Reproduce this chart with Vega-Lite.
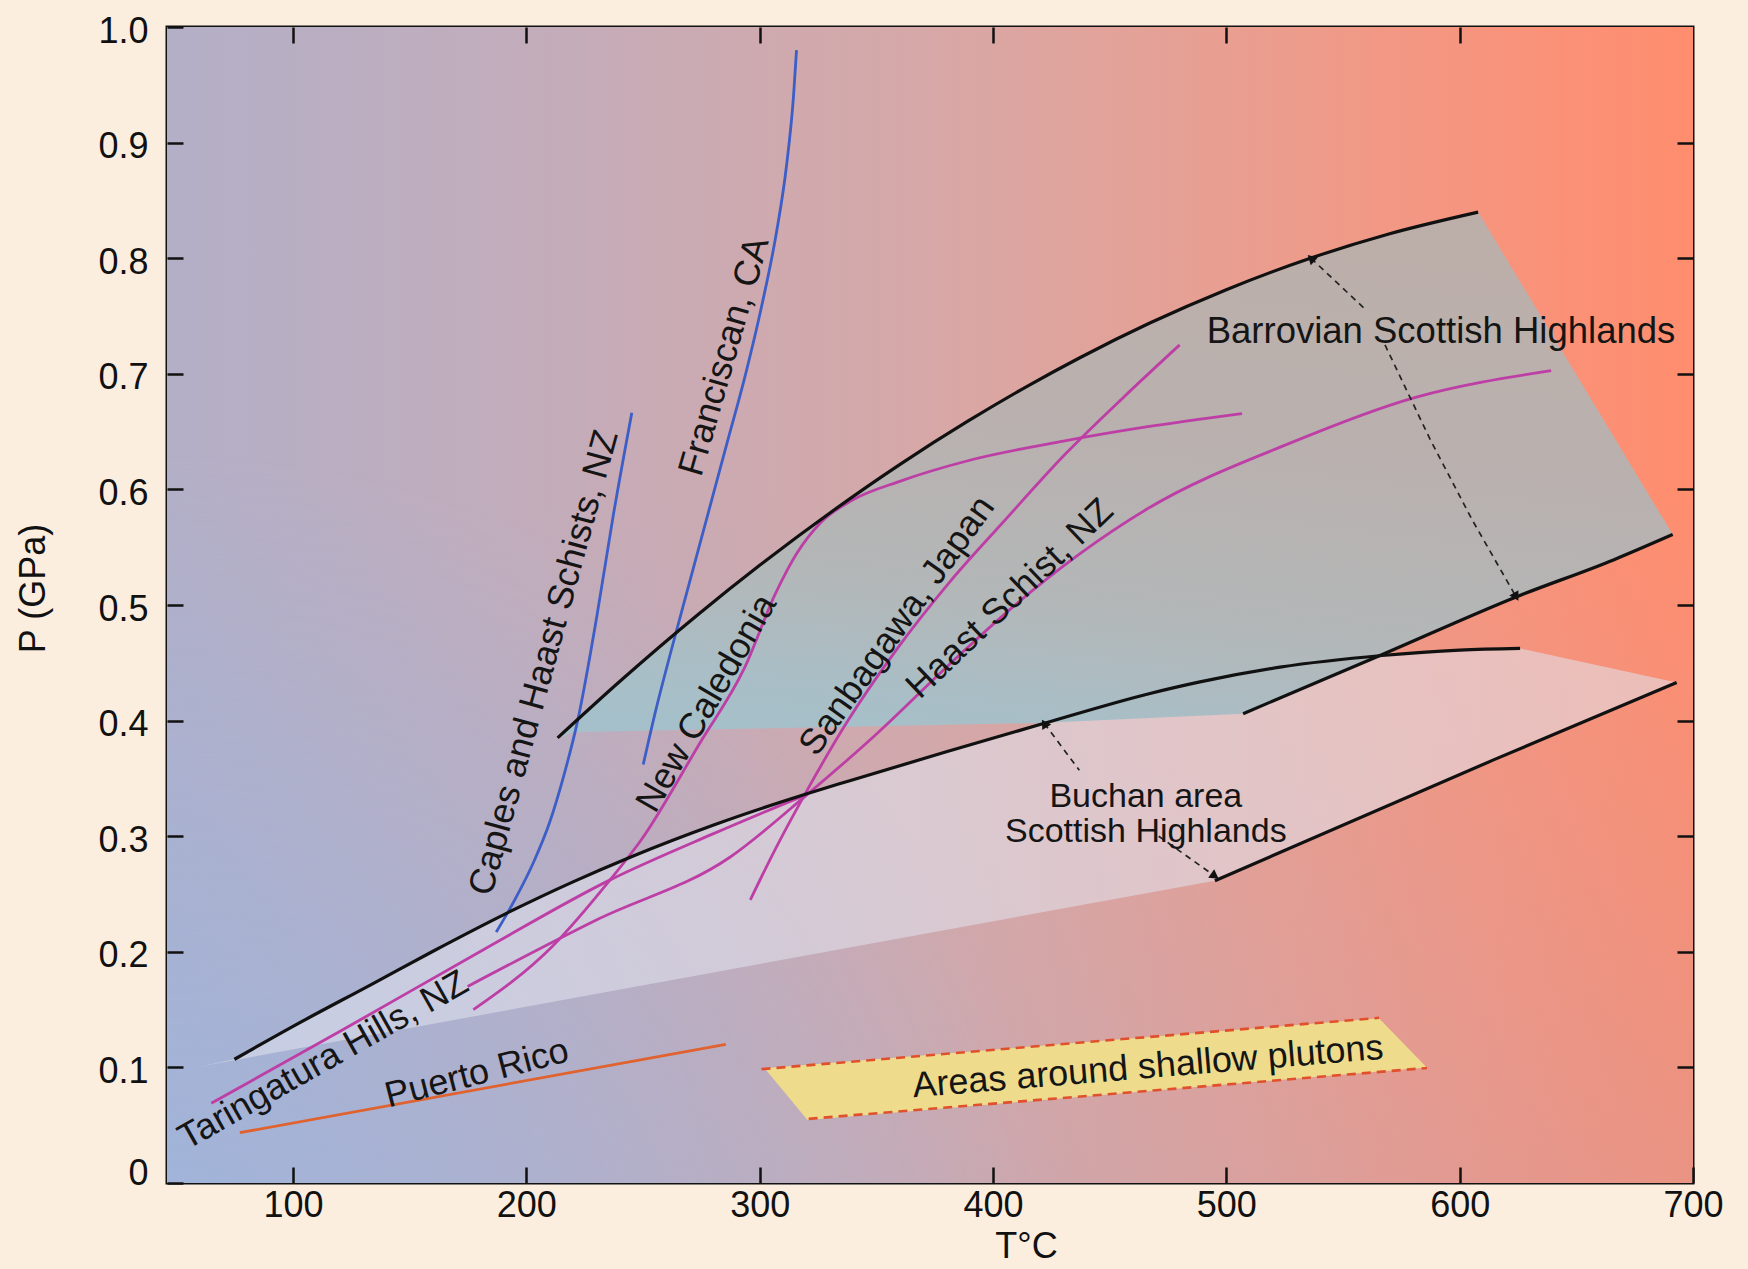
{
  "$schema": "https://vega.github.io/schema/vega-lite/v6.json",
  "width": 1526,
  "height": 1156,
  "autosize": "none",
  "padding": {"left": 167, "top": 27, "right": 55, "bottom": 86},
  "background": "#FCEEDF",
  "config": {
    "view": {"stroke": "#111", "strokeWidth": 3},
    "font": "Liberation Sans",
    "axis": {
      "domain": false, "grid": false, "ticks": true, "tickColor": "#111", "tickWidth": 2.5, "tickSize": 16, "offset": -16,
      "labelFont": "Liberation Sans", "labelFontSize": 36, "labelColor": "#111",
      "labelFlush": false, "labelOverlap": false,
      "titleFont": "Liberation Sans", "titleFontSize": 36, "titleFontWeight": "normal", "titleColor": "#111"
    }
  },
  "datasets": {
    "bg": [{"T": 46, "T2": 700, "P": 0, "P2": 1}],
    "black": [
      {"id": "bu", "T": 213.4, "P": 0.385}, {"id": "bu", "T": 240, "P": 0.4338}, {"id": "bu", "T": 274.4, "P": 0.4931},
      {"id": "bu", "T": 300, "P": 0.5343}, {"id": "bu", "T": 331.7, "P": 0.582}, {"id": "bu", "T": 360, "P": 0.6215},
      {"id": "bu", "T": 389.2, "P": 0.659}, {"id": "bu", "T": 415, "P": 0.6896}, {"id": "bu", "T": 437, "P": 0.7137},
      {"id": "bu", "T": 467.2, "P": 0.7439}, {"id": "bu", "T": 500, "P": 0.7728}, {"id": "bu", "T": 536.3, "P": 0.8002},
      {"id": "bu", "T": 570, "P": 0.8212}, {"id": "bu", "T": 607.9, "P": 0.8399},
      {"id": "bl", "T": 507.2, "P": 0.406}, {"id": "bl", "T": 566.6, "P": 0.457}, {"id": "bl", "T": 624.2, "P": 0.507},
      {"id": "bl", "T": 665.9, "P": 0.539}, {"id": "bl", "T": 691.3, "P": 0.561},
      {"id": "cu", "T": 74.9, "P": 0.107}, {"id": "cu", "T": 100, "P": 0.1355}, {"id": "cu", "T": 134.3, "P": 0.1725},
      {"id": "cu", "T": 160, "P": 0.2005}, {"id": "cu", "T": 191.7, "P": 0.2335}, {"id": "cu", "T": 220, "P": 0.2605},
      {"id": "cu", "T": 245.3, "P": 0.2825}, {"id": "cu", "T": 280, "P": 0.3095}, {"id": "cu", "T": 319.9, "P": 0.3365},
      {"id": "cu", "T": 338.6, "P": 0.348}, {"id": "cu", "T": 380, "P": 0.373}, {"id": "cu", "T": 421.6, "P": 0.3975},
      {"id": "cu", "T": 467.3, "P": 0.4235}, {"id": "cu", "T": 488.7, "P": 0.4335}, {"id": "cu", "T": 523, "P": 0.4462},
      {"id": "cu", "T": 566.6, "P": 0.4563}, {"id": "cu", "T": 600, "P": 0.461}, {"id": "cu", "T": 625.9, "P": 0.4625},
      {"id": "cl", "T": 495.1, "P": 0.2615}, {"id": "cl", "T": 614.5, "P": 0.366}, {"id": "cl", "T": 693, "P": 0.433}
    ],
    "blue": [
      {"id": "caples", "T": 187.1, "P": 0.217}, {"id": "caples", "T": 195.6, "P": 0.247}, {"id": "caples", "T": 203, "P": 0.277},
      {"id": "caples", "T": 210, "P": 0.312}, {"id": "caples", "T": 216, "P": 0.352}, {"id": "caples", "T": 222, "P": 0.4},
      {"id": "caples", "T": 230.2, "P": 0.49}, {"id": "caples", "T": 237.3, "P": 0.578}, {"id": "caples", "T": 245.2, "P": 0.6663},
      {"id": "fran", "T": 250.1, "P": 0.362}, {"id": "fran", "T": 255, "P": 0.405}, {"id": "fran", "T": 262, "P": 0.46},
      {"id": "fran", "T": 270, "P": 0.52}, {"id": "fran", "T": 278, "P": 0.58}, {"id": "fran", "T": 286, "P": 0.64},
      {"id": "fran", "T": 294, "P": 0.7}, {"id": "fran", "T": 301, "P": 0.76}, {"id": "fran", "T": 307, "P": 0.82},
      {"id": "fran", "T": 311.5, "P": 0.88}, {"id": "fran", "T": 314.5, "P": 0.94}, {"id": "fran", "T": 315.8, "P": 0.98}
    ],
    "magenta": [
      {"id": "tar", "T": 65, "P": 0.069}, {"id": "tar", "T": 120, "P": 0.131}, {"id": "tar", "T": 181.4, "P": 0.2016},
      {"id": "tar", "T": 235.7, "P": 0.262}, {"id": "tar", "T": 280, "P": 0.302}, {"id": "tar", "T": 320, "P": 0.336},
      {"id": "hs", "T": 174.8, "P": 0.17}, {"id": "hs", "T": 230, "P": 0.2275}, {"id": "hs", "T": 287.4, "P": 0.282},
      {"id": "hs", "T": 320.3, "P": 0.336}, {"id": "hs", "T": 350.9, "P": 0.39}, {"id": "hs", "T": 381.5, "P": 0.449},
      {"id": "hs", "T": 408.3, "P": 0.498}, {"id": "hs", "T": 437, "P": 0.544}, {"id": "hs", "T": 466, "P": 0.583},
      {"id": "hs", "T": 527.3, "P": 0.64}, {"id": "hs", "T": 579.9, "P": 0.679}, {"id": "hs", "T": 639.2, "P": 0.7027},
      {"id": "nc", "T": 177.3, "P": 0.15}, {"id": "nc", "T": 211, "P": 0.2044}, {"id": "nc", "T": 235.8, "P": 0.262},
      {"id": "nc", "T": 249.2, "P": 0.2967}, {"id": "nc", "T": 274.4, "P": 0.3807}, {"id": "nc", "T": 293.5, "P": 0.4456},
      {"id": "nc", "T": 306.9, "P": 0.5105}, {"id": "nc", "T": 316, "P": 0.545}, {"id": "nc", "T": 326, "P": 0.571},
      {"id": "nc", "T": 340, "P": 0.591}, {"id": "nc", "T": 360, "P": 0.607}, {"id": "nc", "T": 389.2, "P": 0.6248},
      {"id": "nc", "T": 430.2, "P": 0.6418}, {"id": "nc", "T": 465.6, "P": 0.654}, {"id": "nc", "T": 506.7, "P": 0.6656},
      {"id": "sb", "T": 296, "P": 0.245}, {"id": "sb", "T": 306.5, "P": 0.288}, {"id": "sb", "T": 319.3, "P": 0.336},
      {"id": "sb", "T": 337.5, "P": 0.399}, {"id": "sb", "T": 358.5, "P": 0.461}, {"id": "sb", "T": 381.5, "P": 0.52},
      {"id": "sb", "T": 404.5, "P": 0.572}, {"id": "sb", "T": 431.2, "P": 0.631}, {"id": "sb", "T": 456.1, "P": 0.68},
      {"id": "sb", "T": 480, "P": 0.725}
    ],
    "puerto": [{"T": 77.2, "P": 0.0435}, {"T": 285.5, "P": 0.12}],
    "plutonFill": [
      {"i": 0, "T": 302.1, "P": 0.0992}, {"i": 1, "T": 565.4, "P": 0.1425},
      {"i": 2, "T": 585.9, "P": 0.1}, {"i": 3, "T": 320.5, "P": 0.0545}
    ],
    "plutonEdges": [
      {"id": "top", "T": 300.8, "P": 0.0985}, {"id": "top", "T": 565.5, "P": 0.1429},
      {"id": "bot", "T": 321, "P": 0.0555}, {"id": "bot", "T": 586, "P": 0.0995}
    ],
    "buchanFill": [
      {"i": 0, "T": 58, "P": 0.1}, {"i": 1, "T": 74.9, "P": 0.107}, {"i": 2, "T": 100, "P": 0.1355},
      {"i": 3, "T": 134.3, "P": 0.1725}, {"i": 4, "T": 160, "P": 0.2005}, {"i": 5, "T": 191.7, "P": 0.2335},
      {"i": 6, "T": 220, "P": 0.2605}, {"i": 7, "T": 245.3, "P": 0.2825}, {"i": 8, "T": 280, "P": 0.3095},
      {"i": 9, "T": 319.9, "P": 0.3365}, {"i": 10, "T": 338.6, "P": 0.348}, {"i": 11, "T": 380, "P": 0.373},
      {"i": 12, "T": 421.6, "P": 0.3975}, {"i": 13, "T": 467.3, "P": 0.4235}, {"i": 14, "T": 488.7, "P": 0.4335},
      {"i": 15, "T": 523, "P": 0.4462}, {"i": 16, "T": 566.6, "P": 0.4563}, {"i": 17, "T": 600, "P": 0.461},
      {"i": 18, "T": 625.9, "P": 0.4625}, {"i": 19, "T": 693, "P": 0.433}, {"i": 20, "T": 614.5, "P": 0.366},
      {"i": 21, "T": 495.1, "P": 0.2615}
    ],
    "barrovianFill": [
      {"i": 0, "T": 213.4, "P": 0.385}, {"i": 1, "T": 240, "P": 0.4338}, {"i": 2, "T": 274.4, "P": 0.4931},
      {"i": 3, "T": 300, "P": 0.5343}, {"i": 4, "T": 331.7, "P": 0.582}, {"i": 5, "T": 360, "P": 0.6215},
      {"i": 6, "T": 389.2, "P": 0.659}, {"i": 7, "T": 415, "P": 0.6896}, {"i": 8, "T": 437, "P": 0.7137},
      {"i": 9, "T": 467.2, "P": 0.7439}, {"i": 10, "T": 500, "P": 0.7728}, {"i": 11, "T": 536.3, "P": 0.8002},
      {"i": 12, "T": 570, "P": 0.8212}, {"i": 13, "T": 607.9, "P": 0.8399},
      {"i": 14, "T": 691.3, "P": 0.561}, {"i": 15, "T": 665.9, "P": 0.539}, {"i": 16, "T": 624.2, "P": 0.507},
      {"i": 17, "T": 566.6, "P": 0.457}, {"i": 18, "T": 507.2, "P": 0.406}, {"i": 19, "T": 420, "P": 0.398},
      {"i": 20, "T": 220, "P": 0.39}
    ],
    "arrows": [
      {"id": "b1", "T": 536.3, "P": 0.8}, {"id": "b1", "T": 558.9, "P": 0.757},
      {"id": "b2", "T": 568, "P": 0.725}, {"id": "b2", "T": 587.4, "P": 0.643}, {"id": "b2", "T": 605.4, "P": 0.5735}, {"id": "b2", "T": 624.2, "P": 0.507},
      {"id": "c1", "T": 422, "P": 0.3975}, {"id": "c1", "T": 437, "P": 0.357},
      {"id": "c2", "T": 471, "P": 0.3}, {"id": "c2", "T": 495.1, "P": 0.2655}
    ]
  },
  "encoding": {
    "x": {"field": "T", "type": "quantitative", "scale": {"domain": [46, 700], "nice": false, "zero": false}, "axis": null},
    "y": {"field": "P", "type": "quantitative", "scale": {"domain": [0, 1], "nice": false, "zero": false}, "axis": null}
  },
  "layer": [
    {
      "data": {"name": "bg"},
      "mark": {"type": "rect", "fill": {"gradient": "linear", "x1": 0, "y1": 0, "x2": 1, "y2": 0, "stops": [
        {"offset": 0, "color": "#B3AFC7"}, {"offset": 0.25, "color": "#C3ACBA"}, {"offset": 0.5, "color": "#D7A8A7"},
        {"offset": 0.72, "color": "#EB9D8E"}, {"offset": 0.88, "color": "#F8937B"}, {"offset": 1, "color": "#FF8D6E"}]}},
      "encoding": {
        "x": {"field": "T", "type": "quantitative", "scale": {"domain": [46, 700], "nice": false, "zero": false},
          "axis": {"orient": "bottom", "zindex": 3, "values": [100, 200, 300, 400, 500, 600, 700], "labelPadding": 5,
            "title": "T°C", "titleX": 859, "titleY": 90, "titleBaseline": "alphabetic"}},
        "x2": {"field": "T2"},
        "y": {"field": "P", "type": "quantitative", "scale": {"domain": [0, 1], "nice": false, "zero": false},
          "axis": {"orient": "left", "zindex": 3, "values": [0, 0.1, 0.2, 0.3, 0.4, 0.5, 0.6, 0.7, 0.8, 0.9, 1],
            "labelExpr": "datum.value == 0 ? '0' : format(datum.value, '.1f')", "labelPadding": 19,
            "labelOffset": {"condition": {"test": "datum.value == 0", "value": -10}, "value": 4},
            "title": "P (GPa)", "titleX": -150, "titleY": 561, "titleAngle": -90, "titleBaseline": "middle", "titleAlign": "center"}},
        "y2": {"field": "P2"}
      }
    },
    {
      "data": {"name": "bg"},
      "mark": {"type": "rect", "fill": {"gradient": "linear", "x1": 0, "y1": 1, "x2": 0, "y2": 0, "stops": [
        {"offset": 0, "color": "rgba(140,175,225,0.18)"}, {"offset": 0.6, "color": "rgba(140,175,225,0)"}]}},
      "encoding": {
        "x": {"field": "T", "type": "quantitative", "scale": {"domain": [46, 700], "nice": false, "zero": false},
          "axis": {"orient": "top", "zindex": 3, "values": [100, 200, 300, 400, 500, 600], "labels": false, "title": null}},
        "x2": {"field": "T2"},
        "y": {"field": "P", "type": "quantitative", "scale": {"domain": [0, 1], "nice": false, "zero": false},
          "axis": {"orient": "right", "zindex": 3, "values": [0.1, 0.2, 0.3, 0.4, 0.5, 0.6, 0.7, 0.8, 0.9], "labels": false, "title": null}},
        "y2": {"field": "P2"}
      }
    },
    {
      "data": {"name": "bg"},
      "mark": {"type": "rect", "fill": {"gradient": "radial", "x1": 0, "y1": 1, "r1": 0, "x2": 0, "y2": 1, "r2": 0.6, "stops": [
        {"offset": 0, "color": "rgba(150,185,232,0.6)"}, {"offset": 1, "color": "rgba(150,185,232,0)"}]}},
      "encoding": {"x2": {"field": "T2"}, "y2": {"field": "P2"}}
    },
    {
      "data": {"name": "buchanFill"},
      "mark": {"type": "line", "fill": "#E1E4EE", "fillOpacity": 0.55, "strokeOpacity": 0, "interpolate": "linear"},
      "encoding": {"order": {"field": "i", "type": "quantitative"}}
    },
    {
      "data": {"name": "barrovianFill"},
      "mark": {"type": "line", "strokeOpacity": 0, "interpolate": "linear",
        "fill": {"gradient": "linear", "x1": 0.2, "y1": 1, "x2": 0.45, "y2": 0, "stops": [
          {"offset": 0, "color": "#A5C0CA"}, {"offset": 0.1, "color": "#A9BEC6"}, {"offset": 0.3, "color": "#B3B7B8"},
          {"offset": 0.6, "color": "#B9B1AF"}, {"offset": 1, "color": "#BCAFAA"}]}},
      "encoding": {"order": {"field": "i", "type": "quantitative"}}
    },
    {
      "data": {"name": "plutonFill"},
      "mark": {"type": "line", "fill": "#EEDC8C", "strokeOpacity": 0, "interpolate": "linear"},
      "encoding": {"order": {"field": "i", "type": "quantitative"}}
    },
    {
      "data": {"name": "plutonEdges"},
      "mark": {"type": "line", "color": "#E0502C", "strokeWidth": 2.6, "strokeDash": [9, 6]},
      "encoding": {"detail": {"field": "id"}}
    },
    {
      "data": {"name": "puerto"},
      "mark": {"type": "line", "color": "#E0622E", "strokeWidth": 2.8}
    },
    {
      "data": {"name": "blue"},
      "mark": {"type": "line", "color": "#3C5EC6", "strokeWidth": 2.8, "interpolate": "monotone"},
      "encoding": {"detail": {"field": "id"}}
    },
    {
      "data": {"name": "magenta"},
      "mark": {"type": "line", "color": "#BD3FA6", "strokeWidth": 2.8, "interpolate": "monotone"},
      "encoding": {"detail": {"field": "id"}}
    },
    {
      "data": {"name": "black"},
      "mark": {"type": "line", "color": "#111", "strokeWidth": 3.2, "interpolate": "monotone"},
      "encoding": {"detail": {"field": "id"}}
    },
    {
      "data": {"name": "arrows"},
      "mark": {"type": "line", "color": "#222", "strokeWidth": 1.7, "strokeDash": [6, 5]},
      "encoding": {"detail": {"field": "id"}}
    },
    {
      "data": {"values": [{"T": 536.3, "P": 0.8}]},
      "mark": {"type": "point", "shape": "triangle-up", "filled": true, "color": "#111", "size": 110, "angle": 313, "opacity": 1}
    },
    {
      "data": {"values": [{"T": 624.2, "P": 0.507}]},
      "mark": {"type": "point", "shape": "triangle-up", "filled": true, "color": "#111", "size": 110, "angle": 150, "opacity": 1}
    },
    {
      "data": {"values": [{"T": 422, "P": 0.3975}]},
      "mark": {"type": "point", "shape": "triangle-up", "filled": true, "color": "#111", "size": 110, "angle": 328, "opacity": 1}
    },
    {
      "data": {"values": [{"T": 495.1, "P": 0.2655}]},
      "mark": {"type": "point", "shape": "triangle-up", "filled": true, "color": "#111", "size": 110, "angle": 125, "opacity": 1}
    },
    {
      "data": {"values": [
        {"T": 592, "P": 0.7364, "label": "Barrovian Scottish Highlands"}
      ]},
      "mark": {"type": "text", "fontSize": 36.5, "color": "#151515", "align": "center", "baseline": "middle"},
      "encoding": {"text": {"field": "label"}}
    },
    {
      "data": {"values": [
        {"T": 465.5, "P": 0.334, "label": "Buchan area\nScottish Highlands"}
      ]},
      "mark": {"type": "text", "fontSize": 34, "color": "#151515", "align": "center", "baseline": "middle", "lineBreak": "\n", "lineHeight": 35},
      "encoding": {"text": {"field": "label"}}
    },
    {
      "data": {"values": [{"T": 207.6, "P": 0.45, "label": "Caples and Haast Schists, NZ"}]},
      "mark": {"type": "text", "fontSize": 36, "color": "#151515", "align": "center", "baseline": "middle", "angle": -74.7},
      "encoding": {"text": {"field": "label"}}
    },
    {
      "data": {"values": [{"T": 284.9, "P": 0.715, "label": "Franciscan, CA"}]},
      "mark": {"type": "text", "fontSize": 36, "color": "#151515", "align": "center", "baseline": "middle", "angle": -74},
      "encoding": {"text": {"field": "label"}}
    },
    {
      "data": {"values": [{"T": 277.3, "P": 0.415, "label": "New Caledonia"}]},
      "mark": {"type": "text", "fontSize": 36, "color": "#151515", "align": "center", "baseline": "middle", "angle": -60},
      "encoding": {"text": {"field": "label"}}
    },
    {
      "data": {"values": [{"T": 358.9, "P": 0.482, "label": "Sanbagawa, Japan"}]},
      "mark": {"type": "text", "fontSize": 36, "color": "#151515", "align": "center", "baseline": "middle", "angle": -54.5},
      "encoding": {"text": {"field": "label"}}
    },
    {
      "data": {"values": [{"T": 407.2, "P": 0.5055, "label": "Haast Schist, NZ"}]},
      "mark": {"type": "text", "fontSize": 36, "color": "#151515", "align": "center", "baseline": "middle", "angle": -43.7},
      "encoding": {"text": {"field": "label"}}
    },
    {
      "data": {"values": [{"T": 113, "P": 0.106, "label": "Taringatura Hills, NZ"}]},
      "mark": {"type": "text", "fontSize": 36, "color": "#151515", "align": "center", "baseline": "middle", "angle": -29.5},
      "encoding": {"text": {"field": "label"}}
    },
    {
      "data": {"values": [{"T": 178.8, "P": 0.0947, "label": "Puerto Rico"}]},
      "mark": {"type": "text", "fontSize": 36, "color": "#151515", "align": "center", "baseline": "middle", "angle": -14.4},
      "encoding": {"text": {"field": "label"}}
    },
    {
      "data": {"values": [{"T": 466.4, "P": 0.1003, "label": "Areas around shallow plutons"}]},
      "mark": {"type": "text", "fontSize": 36, "color": "#151515", "align": "center", "baseline": "middle", "angle": -4.7},
      "encoding": {"text": {"field": "label"}}
    }
  ],
  "resolve": {"axis": {"x": "independent", "y": "independent"}}
}
